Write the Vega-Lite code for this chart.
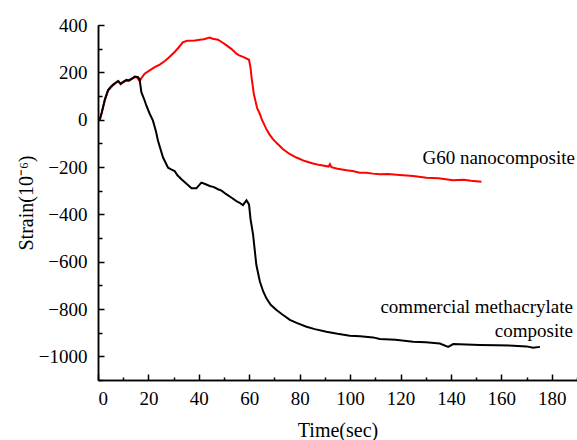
{
  "$schema": "https://vega.github.io/schema/vega-lite/v6.json",
  "width": 479,
  "height": 355,
  "autosize": {"type": "none"},
  "padding": {"left": 98, "top": 25, "right": 0, "bottom": 60},
  "background": "white",
  "config": {
    "view": {"stroke": null},
    "axis": {"grid": false, "domainColor": "black", "tickColor": "black", "domainWidth": 1.5, "tickWidth": 1.5, "labelFont": "Liberation Serif", "titleFont": "Liberation Serif", "labelColor": "black", "titleColor": "black", "labelFontSize": 19, "titleFontSize": 20, "titleFontWeight": "normal"}
  },
  "datasets": {
    "curves": [
      {"t": 0.7, "v": 0, "s": "G60"}, {"t": 1.5, "v": 30, "s": "G60"}, {"t": 2.7, "v": 81, "s": "G60"}, {"t": 4, "v": 123, "s": "G60"}, {"t": 5, "v": 135, "s": "G60"}, {"t": 6, "v": 145, "s": "G60"}, {"t": 7, "v": 155, "s": "G60"}, {"t": 8, "v": 163, "s": "G60"}, {"t": 9, "v": 149, "s": "G60"}, {"t": 10, "v": 158, "s": "G60"}, {"t": 11.3, "v": 166, "s": "G60"}, {"t": 12.3, "v": 165, "s": "G60"}, {"t": 13.2, "v": 170, "s": "G60"}, {"t": 14.6, "v": 180, "s": "G60"}, {"t": 15.6, "v": 177, "s": "G60"}, {"t": 16.5, "v": 163, "s": "G60"}, {"t": 17.5, "v": 180, "s": "G60"}, {"t": 18.5, "v": 194, "s": "G60"}, {"t": 20.5, "v": 208, "s": "G60"}, {"t": 22.5, "v": 222, "s": "G60"}, {"t": 24.5, "v": 233, "s": "G60"}, {"t": 26.5, "v": 248, "s": "G60"}, {"t": 28, "v": 262, "s": "G60"}, {"t": 30.4, "v": 286, "s": "G60"}, {"t": 32, "v": 305, "s": "G60"}, {"t": 33.7, "v": 328, "s": "G60"}, {"t": 35.5, "v": 333, "s": "G60"}, {"t": 38.4, "v": 335, "s": "G60"}, {"t": 40.4, "v": 338, "s": "G60"}, {"t": 42, "v": 340, "s": "G60"}, {"t": 44.3, "v": 347, "s": "G60"}, {"t": 45.5, "v": 342, "s": "G60"}, {"t": 47.6, "v": 338, "s": "G60"}, {"t": 49.5, "v": 325, "s": "G60"}, {"t": 51, "v": 314, "s": "G60"}, {"t": 53, "v": 298, "s": "G60"}, {"t": 54.9, "v": 279, "s": "G60"}, {"t": 56, "v": 272, "s": "G60"}, {"t": 57.5, "v": 265, "s": "G60"}, {"t": 59.9, "v": 253, "s": "G60"}, {"t": 60.5, "v": 220, "s": "G60"}, {"t": 60.9, "v": 180, "s": "G60"}, {"t": 61.8, "v": 109, "s": "G60"}, {"t": 63.1, "v": 50, "s": "G60"}, {"t": 64.2, "v": 24, "s": "G60"}, {"t": 65, "v": 0, "s": "G60"}, {"t": 66.8, "v": -40, "s": "G60"}, {"t": 68, "v": -62, "s": "G60"}, {"t": 69.4, "v": -82, "s": "G60"}, {"t": 71, "v": -100, "s": "G60"}, {"t": 73.4, "v": -125, "s": "G60"}, {"t": 76, "v": -145, "s": "G60"}, {"t": 78.7, "v": -160, "s": "G60"}, {"t": 82, "v": -175, "s": "G60"}, {"t": 85.3, "v": -185, "s": "G60"}, {"t": 88, "v": -192, "s": "G60"}, {"t": 91.5, "v": -198, "s": "G60"}, {"t": 92, "v": -188, "s": "G60"}, {"t": 92.6, "v": -201, "s": "G60"}, {"t": 95, "v": -207, "s": "G60"}, {"t": 98.6, "v": -214, "s": "G60"}, {"t": 101, "v": -217, "s": "G60"}, {"t": 103.8, "v": -224, "s": "G60"}, {"t": 106.5, "v": -224, "s": "G60"}, {"t": 109, "v": -228, "s": "G60"}, {"t": 111.8, "v": -231, "s": "G60"}, {"t": 115, "v": -230, "s": "G60"}, {"t": 119.7, "v": -234, "s": "G60"}, {"t": 125, "v": -238, "s": "G60"}, {"t": 130.3, "v": -245, "s": "G60"}, {"t": 135, "v": -248, "s": "G60"}, {"t": 140.9, "v": -256, "s": "G60"}, {"t": 145, "v": -254, "s": "G60"}, {"t": 148, "v": -258, "s": "G60"}, {"t": 152.1, "v": -262, "s": "G60"},
      {"t": 0.7, "v": 0, "s": "C"}, {"t": 1.5, "v": 30, "s": "C"}, {"t": 2.7, "v": 85, "s": "C"}, {"t": 4, "v": 125, "s": "C"}, {"t": 5, "v": 138, "s": "C"}, {"t": 6, "v": 148, "s": "C"}, {"t": 7, "v": 156, "s": "C"}, {"t": 8, "v": 163, "s": "C"}, {"t": 9, "v": 152, "s": "C"}, {"t": 10, "v": 160, "s": "C"}, {"t": 11.3, "v": 168, "s": "C"}, {"t": 12.3, "v": 166, "s": "C"}, {"t": 13.2, "v": 172, "s": "C"}, {"t": 14.6, "v": 182, "s": "C"}, {"t": 15.9, "v": 180, "s": "C"}, {"t": 16.5, "v": 170, "s": "C"}, {"t": 17.2, "v": 116, "s": "C"}, {"t": 18.5, "v": 81, "s": "C"}, {"t": 19.2, "v": 59, "s": "C"}, {"t": 20.5, "v": 25, "s": "C"}, {"t": 21.8, "v": -4, "s": "C"}, {"t": 23, "v": -50, "s": "C"}, {"t": 23.8, "v": -89, "s": "C"}, {"t": 25.8, "v": -160, "s": "C"}, {"t": 27.8, "v": -203, "s": "C"}, {"t": 29, "v": -210, "s": "C"}, {"t": 30.4, "v": -217, "s": "C"}, {"t": 31.5, "v": -235, "s": "C"}, {"t": 33.1, "v": -252, "s": "C"}, {"t": 35, "v": -270, "s": "C"}, {"t": 37.1, "v": -290, "s": "C"}, {"t": 39, "v": -290, "s": "C"}, {"t": 41, "v": -266, "s": "C"}, {"t": 42.5, "v": -272, "s": "C"}, {"t": 44.3, "v": -280, "s": "C"}, {"t": 46, "v": -285, "s": "C"}, {"t": 47.6, "v": -294, "s": "C"}, {"t": 49, "v": -300, "s": "C"}, {"t": 51, "v": -316, "s": "C"}, {"t": 53, "v": -330, "s": "C"}, {"t": 54.9, "v": -344, "s": "C"}, {"t": 56, "v": -350, "s": "C"}, {"t": 57.5, "v": -361, "s": "C"}, {"t": 58.9, "v": -341, "s": "C"}, {"t": 59.9, "v": -358, "s": "C"}, {"t": 60.5, "v": -420, "s": "C"}, {"t": 61.5, "v": -485, "s": "C"}, {"t": 62.8, "v": -613, "s": "C"}, {"t": 64.2, "v": -684, "s": "C"}, {"t": 65.5, "v": -725, "s": "C"}, {"t": 66.8, "v": -755, "s": "C"}, {"t": 68.5, "v": -782, "s": "C"}, {"t": 70.8, "v": -804, "s": "C"}, {"t": 73, "v": -822, "s": "C"}, {"t": 76.1, "v": -846, "s": "C"}, {"t": 79, "v": -860, "s": "C"}, {"t": 82.7, "v": -875, "s": "C"}, {"t": 86, "v": -885, "s": "C"}, {"t": 90.6, "v": -896, "s": "C"}, {"t": 95, "v": -905, "s": "C"}, {"t": 99.9, "v": -913, "s": "C"}, {"t": 104, "v": -915, "s": "C"}, {"t": 109.1, "v": -920, "s": "C"}, {"t": 111.8, "v": -927, "s": "C"}, {"t": 118, "v": -930, "s": "C"}, {"t": 125, "v": -938, "s": "C"}, {"t": 130, "v": -940, "s": "C"}, {"t": 135.6, "v": -946, "s": "C"}, {"t": 138.9, "v": -960, "s": "C"}, {"t": 140.9, "v": -948, "s": "C"}, {"t": 146, "v": -950, "s": "C"}, {"t": 151.5, "v": -952, "s": "C"}, {"t": 158, "v": -953, "s": "C"}, {"t": 164.7, "v": -955, "s": "C"}, {"t": 170, "v": -958, "s": "C"}, {"t": 172.6, "v": -964, "s": "C"}, {"t": 175.3, "v": -960, "s": "C"}
    ],
    "labels": [
      {"t": 189.2, "v": -187, "label": "G60 nanocomposite"},
      {"t": 188.4, "v": -818, "label": "commercial methacrylate"},
      {"t": 188.4, "v": -917, "label": "composite"}
    ]
  },
  "resolve": {"axis": {"x": "independent", "y": "independent"}},
  "layer": [
    {
      "data": {"name": "curves"},
      "transform": [{"filter": "datum.s === 'G60'"}],
      "mark": {"type": "line", "color": "#ff0000", "strokeWidth": 2},
      "encoding": {
        "x": {"field": "t", "type": "quantitative", "scale": {"domain": [0, 190], "nice": false},
              "axis": {"orient": "bottom", "values": [10, 30, 50, 70, 90, 110, 130, 150, 170, 190], "tickSize": -3, "labels": false, "title": null}},
        "y": {"field": "v", "type": "quantitative", "scale": {"domain": [-1100, 400], "nice": false},
              "axis": {"orient": "left", "values": [-1100, -900, -700, -500, -300, -100, 100, 300], "tickSize": -4, "labels": false, "title": null}},
        "order": {"field": "t", "type": "quantitative"}
      }
    },
    {
      "data": {"name": "curves"},
      "transform": [{"filter": "datum.s === 'C'"}],
      "mark": {"type": "line", "color": "#000000", "strokeWidth": 2},
      "encoding": {
        "x": {"field": "t", "type": "quantitative", "scale": {"domain": [0, 190], "nice": false},
              "axis": {"orient": "bottom", "values": [0, 20, 40, 60, 80, 100, 120, 140, 160, 180], "format": "d", "tickSize": -6, "labelPadding": 15, "labelFont": "Liberation Serif", "labelFontSize": 19, "title": "Time(sec)", "titlePadding": 12}},
        "y": {"field": "v", "type": "quantitative", "scale": {"domain": [-1100, 400], "nice": false},
              "axis": {"orient": "left", "values": [-1000, -800, -600, -400, -200, 0, 200, 400], "format": "d", "tickSize": -6, "labelPadding": 17, "labelFont": "Liberation Serif", "labelFontSize": 19, "title": "Strain(10⁻⁶)", "titlePadding": 2}},
        "order": {"field": "t", "type": "quantitative"}
      }
    },
    {
      "data": {"name": "labels"},
      "mark": {"type": "text", "align": "right", "baseline": "alphabetic", "font": "Liberation Serif", "fontSize": 19, "color": "black"},
      "encoding": {
        "x": {"field": "t", "type": "quantitative", "axis": null},
        "y": {"field": "v", "type": "quantitative", "axis": null},
        "text": {"field": "label"}
      }
    }
  ]
}
